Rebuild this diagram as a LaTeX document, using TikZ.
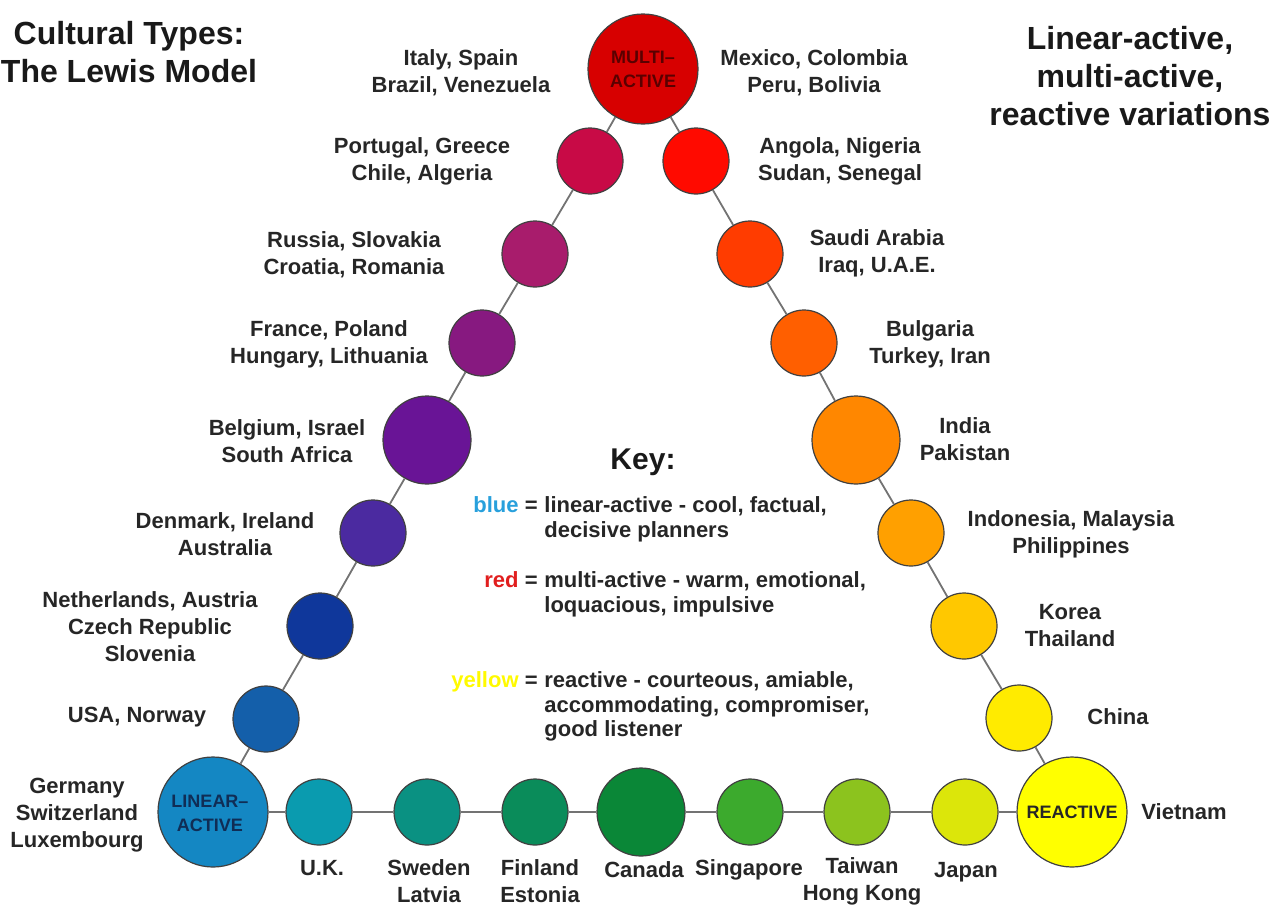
\documentclass[tikz,border=0pt]{standalone}
\usepackage{fontspec}
\setmainfont{Liberation Sans}
\usepackage{tikz}

\definecolor{cMulti}{RGB}{215,0,0}
\definecolor{cPor}{RGB}{200,10,70}
\definecolor{cRus}{RGB}{168,28,108}
\definecolor{cFra}{RGB}{135,25,128}
\definecolor{cBel}{RGB}{105,20,150}
\definecolor{cDen}{RGB}{75,42,160}
\definecolor{cNeth}{RGB}{15,55,155}
\definecolor{cUsa}{RGB}{20,95,170}
\definecolor{cLin}{RGB}{20,135,195}
\definecolor{cUk}{RGB}{10,155,175}
\definecolor{cSwe}{RGB}{10,145,130}
\definecolor{cFin}{RGB}{10,140,90}
\definecolor{cCan}{RGB}{10,135,55}
\definecolor{cSing}{RGB}{60,170,45}
\definecolor{cTai}{RGB}{140,195,30}
\definecolor{cJap}{RGB}{220,230,10}
\definecolor{cReact}{RGB}{255,255,0}
\definecolor{cChi}{RGB}{255,235,0}
\definecolor{cKor}{RGB}{255,200,0}
\definecolor{cIndo}{RGB}{255,160,0}
\definecolor{cInd}{RGB}{255,135,0}
\definecolor{cBul}{RGB}{255,95,0}
\definecolor{cSau}{RGB}{255,60,0}
\definecolor{cAng}{RGB}{255,10,0}
\definecolor{keyBlue}{RGB}{40,160,220}
\definecolor{keyRed}{RGB}{225,30,30}
\definecolor{keyYellow}{RGB}{255,250,0}

\begin{document}
\begin{tikzpicture}[x=0.5pt,y=-0.5pt,
    ball/.style={circle,draw=black!75,line width=0.6pt,inner sep=0pt,minimum size=33pt},
    bigball/.style={ball,minimum size=55pt},
    midball/.style={ball,minimum size=44pt},
    link/.style={draw=black!55,line width=0.9pt},
    country/.style={align=center,text=black!85,inner sep=0pt,font=\fontsize{11}{13.5}\selectfont\bfseries},
    heading/.style={align=center,text=black!90,inner sep=0pt,font=\fontsize{16}{19}\selectfont\bfseries},
    keytext/.style={inner sep=0pt,text=black!85,font=\fontsize{11}{12.45}\selectfont\bfseries},
    corner/.style={align=center,inner sep=0pt,font=\fontsize{9}{12}\selectfont\bfseries}]

  \useasboundingbox (0,0) rectangle (1274,906);

  % corners
  \node[bigball,fill=cMulti] (multi) at (643,69) {};
  \node[bigball,fill=cLin] (lin) at (213,812) {};
  \node[bigball,fill=cReact] (react) at (1072,812) {};

  % left side
  \node[ball,fill=cUsa] (usa) at (266,719) {};
  \node[ball,fill=cNeth] (neth) at (320,626) {};
  \node[ball,fill=cDen] (den) at (373,533) {};
  \node[midball,fill=cBel] (bel) at (427,440) {};
  \node[ball,fill=cFra] (fra) at (482,343) {};
  \node[ball,fill=cRus] (rus) at (535,254) {};
  \node[ball,fill=cPor] (por) at (590,161) {};

  % right side
  \node[ball,fill=cAng] (ang) at (696,161) {};
  \node[ball,fill=cSau] (sau) at (750,254) {};
  \node[ball,fill=cBul] (bul) at (804,343) {};
  \node[midball,fill=cInd] (ind) at (856,440) {};
  \node[ball,fill=cIndo] (indo) at (911,533) {};
  \node[ball,fill=cKor] (kor) at (964,626) {};
  \node[ball,fill=cChi] (chi) at (1019,718) {};

  % bottom row
  \node[ball,fill=cUk] (uk) at (319,812) {};
  \node[ball,fill=cSwe] (swe) at (427,812) {};
  \node[ball,fill=cFin] (fin) at (535,812) {};
  \node[midball,fill=cCan] (can) at (641,812) {};
  \node[ball,fill=cSing] (sing) at (750,812) {};
  \node[ball,fill=cTai] (tai) at (857,812) {};
  \node[ball,fill=cJap] (jap) at (965,812) {};

  \draw[link] (lin) -- (usa) -- (neth) -- (den) -- (bel) -- (fra) -- (rus) -- (por) -- (multi);
  \draw[link] (multi) -- (ang) -- (sau) -- (bul) -- (ind) -- (indo) -- (kor) -- (chi) -- (react);
  \draw[link] (lin) -- (uk) -- (swe) -- (fin) -- (can) -- (sing) -- (tai) -- (jap) -- (react);

  \node[corner,text={rgb,255:red,90;green,0;blue,0}] (multitxt) at (multi) {MULTI–\\ACTIVE};
  \node[corner,text={rgb,255:red,16;green,45;blue,85}] (lintxt) at (210,813) {LINEAR–\\ACTIVE};
  \node[corner,text=black!85] (reacttxt) at (react) {REACTIVE};

  % titles
  \node[heading] (title) at (129,52) {Cultural Types:\\The Lewis Model};
  \node[heading] (subtitle) at (1130,76) {Linear-active,\\multi-active,\\reactive variations};

  % country labels
  \node[country] (italy) at (461,73) {Italy, Spain\\Brazil, Venezuela};
  \node[country] (mexico) at (814,73) {Mexico, Colombia\\Peru, Bolivia};
  \node[country] (portugal) at (422,161) {Portugal, Greece\\Chile, Algeria};
  \node[country] (angola) at (840,161) {Angola, Nigeria\\Sudan, Senegal};
  \node[country] (russia) at (354,255) {Russia, Slovakia\\Croatia, Romania};
  \node[country] (saudi) at (877,253) {Saudi Arabia\\Iraq, U.A.E.};
  \node[country] (france) at (329,344) {France, Poland\\Hungary, Lithuania};
  \node[country] (bulgaria) at (930,344) {Bulgaria\\Turkey, Iran};
  \node[country] (belgium) at (287,441) {Belgium, Israel\\South Africa};
  \node[country] (india) at (965,439) {India\\Pakistan};
  \node[country] (denmark) at (225,534) {Denmark, Ireland\\Australia};
  \node[country] (indonesia) at (1071,534) {Indonesia, Malaysia\\Philippines};
  \node[country] (netherlands) at (150,627) {Netherlands, Austria\\Czech Republic\\Slovenia};
  \node[country] (korea) at (1070,626) {Korea\\Thailand};
  \node[country] (usatxt) at (137,717) {USA, Norway};
  \node[country] (china) at (1118,717) {China};
  \node[country] (germany) at (77,815) {Germany\\Switzerland\\Luxembourg};
  \node[country] (vietnam) at (1184,812) {Vietnam};
  \node[country] (uktxt) at (322,868) {U.K.};
  \node[country] (sweden) at (429,881) {Sweden\\Latvia};
  \node[country] (finland) at (540,881) {Finland\\Estonia};
  \node[country] (canada) at (644,870) {Canada};
  \node[country] (singapore) at (749,870) {Singapore};
  \node[country] (taiwan) at (862,881) {Taiwan\\Hong Kong};
  \node[country] (japan) at (966,872) {Japan};

  % key
  \node[inner sep=0pt,text=black!90,font=\fontsize{15}{18}\selectfont\bfseries] (key) at (643,462) {Key:};
  \node[keytext,anchor=north east] (keynames) at (538,495) {\begin{tabular}{@{}r@{}}
    \textcolor{keyBlue}{blue} =\\ \\ \\
    \textcolor{keyRed}{red} =\\ \\ \\ \\
    \textcolor{keyYellow}{yellow} =\\ \\ \\
  \end{tabular}};
  \node[keytext,anchor=north west] (keydesc) at (544,495) {\begin{tabular}{@{}l@{}}
    linear-active - cool, factual,\\decisive planners\\ \\
    multi-active - warm, emotional,\\loquacious, impulsive\\ \\ \\
    reactive - courteous, amiable,\\accommodating, compromiser,\\good listener
  \end{tabular}};
\end{tikzpicture}
\end{document}
